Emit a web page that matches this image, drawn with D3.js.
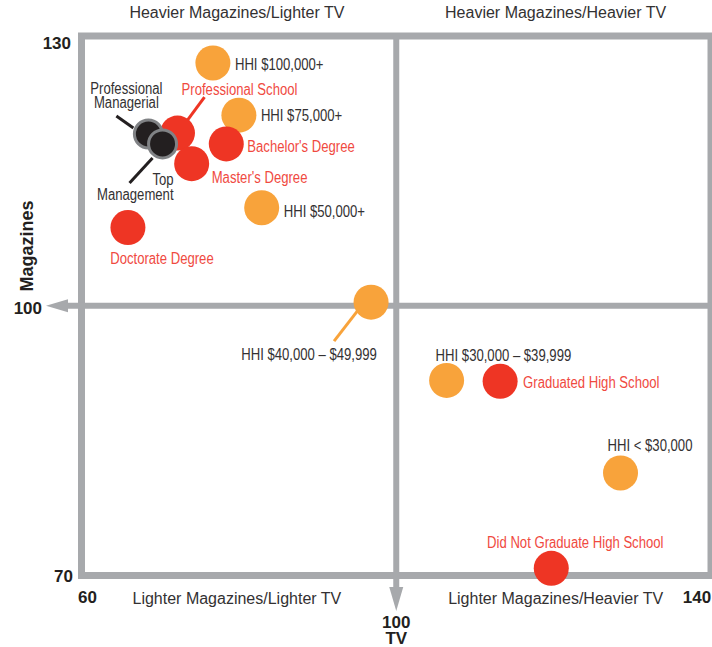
<!DOCTYPE html>
<html lang="en">
<head>
  <meta charset="UTF-8">
  <title>Magazines vs TV</title>
  <script src="https://d3js.org/d3.v7.min.js"></script>
  <style>
    body { margin: 0; background: #fff; }
    svg { display: block; }
    .lbl { font-family: "Liberation Sans", Arial, sans-serif; font-size: 16px; }
    .tick { font-family: "Liberation Sans", Arial, sans-serif; font-size: 17px; font-weight: bold; fill: #231f20; }
  </style>
</head>
<body>
  <svg width="712" height="647"></svg>
  <script>
    // income groups (orange)
    const incomeLabels = ["HHI $100,000+", "HHI $75,000+", "HHI $50,000+", "HHI $40,000 – $49,999", "HHI $30,000 – $39,999", "HHI < $30,000"];
    const incomeTV  = [76.7, 80.0, 82.9, 96.8, 106.4, 128.5];
    const incomeMag = [127.0, 121.2, 110.9, 100.4, 91.7, 81.4];

    // education groups (red)
    const educationLabels = ["Professional School", "Bachelor's Degree", "Master's Degree", "Doctorate Degree", "Graduated High School", "Did Not Graduate High School"];
    const educationTV  = [72.2, 78.4, 74.0, 65.9, 113.2, 119.7];
    const educationMag = [119.2, 118.0, 115.8, 108.7, 91.6, 70.8];

    // occupation groups (black)
    const occupationLabels = ["Professional Managerial", "Top Management"];
    const occupationTV  = [68.5, 70.3];
    const occupationMag = [119.1, 118.0];

    const xTicks = [60, 100, 140];
    const yTicks = [130, 100, 70];
    const quadrantLabels = ["Heavier Magazines/Lighter TV", "Heavier Magazines/Heavier TV", "Lighter Magazines/Lighter TV", "Lighter Magazines/Heavier TV"];

    // label placement relative to the circle centre
    const place = {
      "HHI $100,000+": {dx: 22, dy: 2, anchor: "start"},
      "HHI $75,000+": {dx: 22, dy: 0, anchor: "start"},
      "HHI $50,000+": {dx: 22, dy: 4, anchor: "start"},
      "HHI $40,000 – $49,999": {dx: -62, dy: 52, anchor: "middle", lead: [-13, 8, -37, 39]},
      "HHI $30,000 – $39,999": {dx: -11, dy: -25, anchor: "start"},
      "HHI < $30,000": {dx: -13, dy: -27, anchor: "start"},
      "Professional School": {dx: 62, dy: -44, anchor: "middle", lead: [10, -13, 27, -36]},
      "Bachelor's Degree": {dx: 21, dy: 3, anchor: "start"},
      "Master's Degree": {dx: 20, dy: 14, anchor: "start"},
      "Doctorate Degree": {dx: 34, dy: 31, anchor: "middle"},
      "Graduated High School": {dx: 23, dy: 1, anchor: "start"},
      "Did Not Graduate High School": {dx: 24, dy: -26, anchor: "middle"},
      "Professional Managerial": {dx: -22, dy: -46, anchor: "middle", lines: ["Professional", "Managerial"], lead: [-32, -18, -15, -6]},
      "Top Management": {dx: 11, dy: 36, anchor: "end", lines: ["Top", "Management"], lead: [-10, 14, -33, 39]}
    };

    const grey = "#a7a9ac";
    const orange = "#f8a33b";
    const red = "#ee3524";
    const redText = "#f04a3f";
    const darkText = "#333132";
    const squeeze = 0.82; // the point labels use a condensed face

    const svg = d3.select("svg");
    const x = d3.scaleLinear().domain([60, 140]).range([81.5, 711]);
    const y = d3.scaleLinear().domain([70, 130]).range([575.5, 36]);

    const toRows = (labels, tv, mag, kind) => labels.map((l, i) => ({label: l, tv: tv[i], mag: mag[i], kind}));
    const rows = [].concat(
      toRows(incomeLabels, incomeTV, incomeMag, "income"),
      toRows(educationLabels, educationTV, educationMag, "education"),
      toRows(occupationLabels, occupationTV, occupationMag, "occupation")
    );

    // frame and centre cross
    const frame = svg.append("g");
    frame.append("rect")
      .attr("x", x(60)).attr("y", y(130))
      .attr("width", x(140) - x(60)).attr("height", y(70) - y(130))
      .attr("fill", "none").attr("stroke", grey).attr("stroke-width", 7);
    frame.append("line")
      .attr("x1", 64).attr("x2", x(140))
      .attr("y1", y(100)).attr("y2", y(100))
      .attr("stroke", grey).attr("stroke-width", 6);
    frame.append("line")
      .attr("x1", x(100)).attr("x2", x(100))
      .attr("y1", y(130)).attr("y2", 592)
      .attr("stroke", grey).attr("stroke-width", 6);
    frame.append("path")
      .attr("d", `M46,${y(100)} L68,${y(100) - 6.5} L68,${y(100) + 6.5} Z`)
      .attr("fill", grey);
    frame.append("path")
      .attr("d", `M${x(100)},611 L${x(100) - 7},587 L${x(100) + 7},587 Z`)
      .attr("fill", grey);

    // tick labels
    svg.append("text").attr("class", "tick").attr("x", 71).attr("y", y(130) + 13).attr("text-anchor", "end").text(yTicks[0]);
    svg.append("text").attr("class", "tick").attr("x", 42).attr("y", y(100) + 8).attr("text-anchor", "end").text(yTicks[1]);
    svg.append("text").attr("class", "tick").attr("x", 73).attr("y", y(70) + 6).attr("text-anchor", "end").text(yTicks[2]);
    svg.append("text").attr("class", "tick").attr("x", x(60) + 6).attr("y", 603).attr("text-anchor", "middle").text(xTicks[0]);
    svg.append("text").attr("class", "tick").attr("x", x(100)).attr("y", 628).attr("text-anchor", "middle").text(xTicks[1]);
    svg.append("text").attr("class", "tick").attr("x", x(140) - 14).attr("y", 603).attr("text-anchor", "middle").text(xTicks[2]);
    svg.append("text").attr("class", "tick").attr("x", x(100)).attr("y", 644).attr("text-anchor", "middle").text("TV");
    svg.append("text").attr("class", "tick").style("font-size", "18px")
      .attr("transform", `translate(33,246) rotate(-90)`)
      .attr("text-anchor", "middle").text("Magazines");

    // quadrant captions
    const qx = [(x(60) + x(100)) / 2 - 2, (x(100) + x(140)) / 2 + 2];
    const qLab = svg.append("g").attr("class", "lbl").attr("fill", darkText).attr("text-anchor", "middle");
    qLab.append("text").attr("x", qx[0]).attr("y", 18).text(quadrantLabels[0]);
    qLab.append("text").attr("x", qx[1]).attr("y", 18).text(quadrantLabels[1]);
    qLab.append("text").attr("x", qx[0]).attr("y", 604).text(quadrantLabels[2]);
    qLab.append("text").attr("x", qx[1]).attr("y", 604).text(quadrantLabels[3]);

    const fillOf = k => k === "income" ? orange : k === "education" ? red : "#231f20";
    const textOf = k => k === "education" ? redText : darkText;

    // leader lines
    svg.append("g").selectAll("line")
      .data(rows.filter(d => place[d.label].lead))
      .join("line")
      .attr("x1", d => x(d.tv) + place[d.label].lead[0])
      .attr("y1", d => y(d.mag) + place[d.label].lead[1])
      .attr("x2", d => x(d.tv) + place[d.label].lead[2])
      .attr("y2", d => y(d.mag) + place[d.label].lead[3])
      .attr("stroke", d => fillOf(d.kind))
      .attr("stroke-width", 3);

    // circles
    svg.append("g").selectAll("circle")
      .data(rows)
      .join("circle")
      .attr("cx", d => x(d.tv))
      .attr("cy", d => y(d.mag))
      .attr("r", d => d.kind === "occupation" ? 14 : 17.5)
      .attr("fill", d => fillOf(d.kind))
      .attr("stroke", d => d.kind === "occupation" ? "#808285" : "none")
      .attr("stroke-width", 3);

    // point labels
    const lab = svg.append("g").attr("class", "lbl").selectAll("text")
      .data(rows)
      .join("text")
      .attr("transform", d => `translate(${x(d.tv) + place[d.label].dx},${y(d.mag) + place[d.label].dy + 5.5}) scale(${squeeze},1)`)
      .attr("text-anchor", d => place[d.label].anchor)
      .attr("fill", d => textOf(d.kind));
    lab.each(function(d) {
      const p = place[d.label];
      const t = d3.select(this);
      if (p.lines) {
        p.lines.forEach((s, i) => {
          t.append("tspan").attr("x", 0).attr("dy", i === 0 ? 0 : 15).text(s);
        });
      } else {
        t.text(d.label);
      }
    });
  </script>
</body>
</html>
